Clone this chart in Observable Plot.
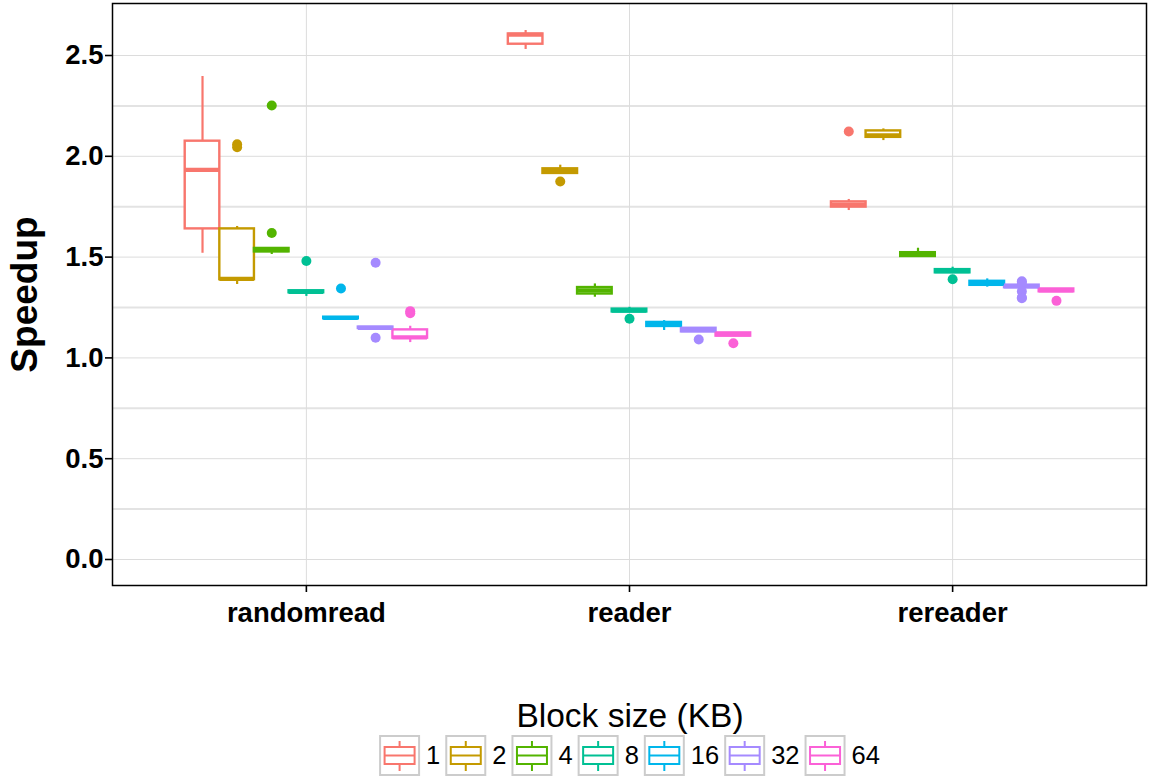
<!DOCTYPE html>
<html>
<head>
<meta charset="utf-8">
<script src="https://cdn.jsdelivr.net/npm/d3@7"></script>
<script src="https://cdn.jsdelivr.net/npm/@observablehq/plot@0.6"></script>
<style>
  html, body { margin: 0; padding: 0; background: white; }
  #chart svg { display: block; }
</style>
</head>
<body>
<div id="chart"></div>
<script>
// ---- data ----
const categories = ["randomread", "reader", "rereader"];
const blockSizes = ["1", "2", "4", "8", "16", "32", "64"];
const hueColors = ["#F8766D", "#C49A00", "#53B400", "#00C094", "#00B6EB", "#A58AFF", "#FB61D7"];

// whisker low, Q1, median, Q3, whisker high — one row per category, one value per block size
const whiskerLow = [
  [1.519, 1.364, 1.513, 1.305, 1.193, 1.145, 1.076],
  [2.530, 1.913, 1.301, 1.225, 1.136, 1.126, 1.106],
  [1.731, 2.078, 1.500, 1.419, 1.351, 1.345, 1.325]
];
const q1 = [
  [1.640, 1.388, 1.526, 1.323, 1.194, 1.146, 1.098],
  [2.556, 1.915, 1.317, 1.228, 1.156, 1.129, 1.108],
  [1.748, 2.094, 1.503, 1.422, 1.360, 1.348, 1.328]
];
const median = [
  [1.933, 1.392, 1.534, 1.328, 1.198, 1.149, 1.102],
  [2.603, 1.928, 1.335, 1.235, 1.165, 1.138, 1.116],
  [1.760, 2.104, 1.513, 1.430, 1.370, 1.355, 1.335]
];
const q3 = [
  [2.075, 1.640, 1.543, 1.333, 1.202, 1.153, 1.139],
  [2.607, 1.938, 1.349, 1.242, 1.176, 1.147, 1.124],
  [1.774, 2.126, 1.522, 1.438, 1.380, 1.361, 1.342]
];
const whiskerHigh = [
  [2.396, 1.652, 1.545, 1.335, 1.203, 1.154, 1.157],
  [2.624, 1.956, 1.367, 1.251, 1.185, 1.149, 1.126],
  [1.786, 2.136, 1.544, 1.450, 1.392, 1.363, 1.344]
];
const outlierValues = [
  [[], [2.060, 2.045], [2.252, 1.620], [1.481], [1.344], [1.472, 1.100], [1.232, 1.222]],
  [[], [1.875], [], [1.194], [], [1.091], [1.073]],
  [[2.123], [], [], [1.390], [], [1.380, 1.372, 1.330, 1.300, 1.296], [1.283]]
];
const yTicks = [0, 0.5, 1.0, 1.5, 2.0, 2.5];
const yMinorTicks = [0.25, 0.75, 1.25, 1.75, 2.25];

// ---- build tables (dodge like ggplot: 0.75 of a category, split in 7) ----
const dodgeWidth = 0.75;
const slot = dodgeWidth / blockSizes.length;
const boxes = [];
const outliers = [];
categories.forEach((c, ci) => {
  blockSizes.forEach((b, bi) => {
    const xc = ci + (bi - (blockSizes.length - 1) / 2) * slot;
    boxes.push({
      category: c, block: b, x: xc, x1: xc - slot / 2, x2: xc + slot / 2,
      lo: whiskerLow[ci][bi], q1: q1[ci][bi], med: median[ci][bi],
      q3: q3[ci][bi], hi: whiskerHigh[ci][bi]
    });
    outlierValues[ci][bi].forEach(v => outliers.push({category: c, block: b, x: xc, y: v}));
  });
});

const font = "'Liberation Sans', Arial, Helvetica, sans-serif";

const plot = Plot.plot({
  width: 1149,
  height: 690,
  marginLeft: 112,
  marginRight: 3,
  marginTop: 3,
  marginBottom: 105,
  style: {fontFamily: font, background: "white", color: "black", fontWeight: "bold"},
  x: {domain: [-0.6, categories.length - 0.4]},
  y: {domain: [-0.129, 2.758]},
  color: {domain: blockSizes, range: hueColors},
  marks: [
    Plot.ruleY(yMinorTicks, {stroke: "#e3e3e3", strokeWidth: 2}),
    Plot.ruleY(yTicks, {stroke: "#dcdcdc", strokeWidth: 1}),
    Plot.ruleX(d3.range(categories.length), {stroke: "#dcdcdc", strokeWidth: 1}),
    Plot.ruleX(boxes, {x: "x", y1: "q3", y2: "hi", stroke: "block", strokeWidth: 2.2}),
    Plot.ruleX(boxes, {x: "x", y1: "q1", y2: "lo", stroke: "block", strokeWidth: 2.2}),
    Plot.rect(boxes, {x1: "x1", x2: "x2", y1: "q1", y2: "q3", fill: "white", stroke: "block", strokeWidth: 2.4}),
    Plot.ruleY(boxes, {y: "med", x1: "x1", x2: "x2", stroke: "block", strokeWidth: 4.2}),
    Plot.dot(outliers, {x: "x", y: "y", fill: "block", r: 5, stroke: null}),
    Plot.frame({stroke: "black", strokeWidth: 1.5}),
    Plot.axisY({ticks: yTicks, tickFormat: d3.format(".1f"), tickSize: 7, tickPadding: 2,
      fontSize: 27.5, fontWeight: "bold", strokeWidth: 1.6, label: null}),
    Plot.axisX({ticks: d3.range(categories.length), tickFormat: i => categories[i], tickSize: 7,
      tickPadding: 10, fontSize: 27.5, fontWeight: "bold", strokeWidth: 1.6, label: null}),
    Plot.text(["Speedup"], {text: d => d, frameAnchor: "left", textAnchor: "middle", lineAnchor: "middle",
      dx: -87, rotate: -90, fontSize: 37, fontWeight: "bold", fill: "black"})
  ]
});
document.getElementById("chart").appendChild(plot);

// ---- legend below the plot (boxplot glyph keys, like ggplot) ----
const colorScale = plot.scale("color");
const legendW = 1149, legendH = 90;
const svg = d3.create("svg").attr("width", legendW).attr("height", legendH)
  .attr("viewBox", `0 0 ${legendW} ${legendH}`)
  .style("font-family", font).style("display", "block");

svg.append("text").attr("x", 630).attr("y", 37).attr("text-anchor", "middle")
  .attr("font-size", 33.5).attr("fill", "black").text("Block size (KB)");

const ctx = document.createElement("canvas").getContext("2d");
const labelSize = 25.5;
ctx.font = `${labelSize}px ${font}`;
const keySize = 41, keyLabelGap = 6, itemGap = 5;
const widths = blockSizes.map(b => ctx.measureText(b).width);
const total = d3.sum(widths) + blockSizes.length * (keySize + keyLabelGap) + (blockSizes.length - 1) * itemGap;
let cx = 629.5 - total / 2;
const keyTop = 45;
blockSizes.forEach((b, i) => {
  const col = colorScale.apply(b);
  const g = svg.append("g").attr("transform", `translate(${cx},${keyTop})`);
  g.append("rect").attr("x", 1).attr("y", 1).attr("width", keySize - 2).attr("height", keySize - 2)
    .attr("fill", "white").attr("stroke", "#cccccc").attr("stroke-width", 2);
  g.append("line").attr("x1", keySize / 2).attr("x2", keySize / 2).attr("y1", 6).attr("y2", keySize - 5)
    .attr("stroke", col).attr("stroke-width", 2);
  g.append("rect").attr("x", 5.5).attr("y", 12).attr("width", keySize - 11).attr("height", 17)
    .attr("fill", "white").attr("stroke", col).attr("stroke-width", 2);
  g.append("line").attr("x1", 5.5).attr("x2", keySize - 5.5).attr("y1", 20.5).attr("y2", 20.5)
    .attr("stroke", col).attr("stroke-width", 2);
  svg.append("text").attr("x", cx + keySize + keyLabelGap).attr("y", keyTop + keySize / 2)
    .attr("dy", "0.35em").attr("font-size", labelSize).attr("fill", "black").text(b);
  cx += keySize + keyLabelGap + widths[i] + itemGap;
});
document.getElementById("chart").appendChild(svg.node());
</script>
</body>
</html>
